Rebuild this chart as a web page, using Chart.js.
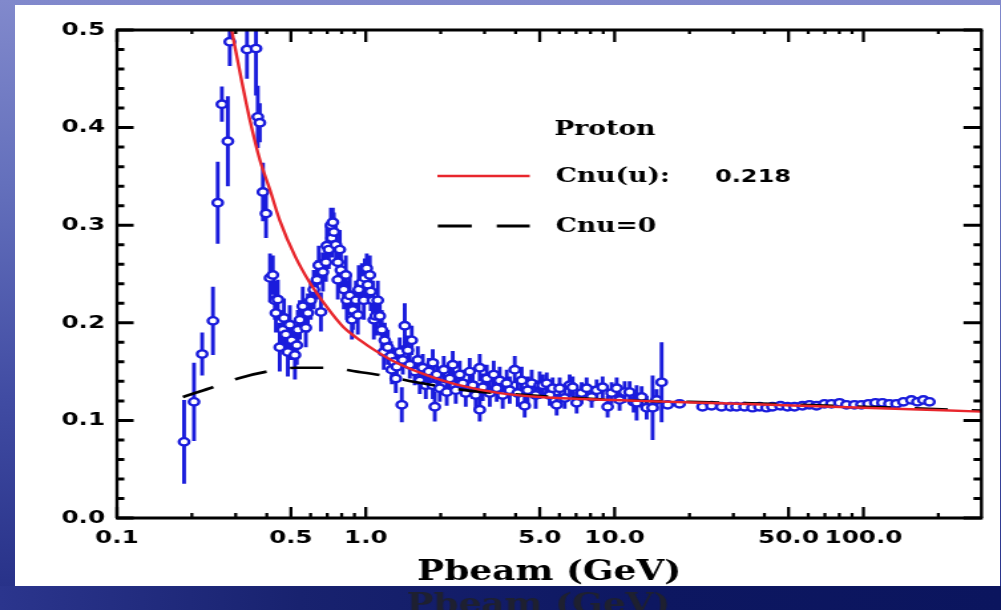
<!DOCTYPE html>
<html>
<head>
<meta charset="utf-8">
<script src="https://cdn.jsdelivr.net/npm/chart.js@4.4.0/dist/chart.umd.min.js"></script>
<style>
  html, body { margin: 0; padding: 0; }
  body {
    width: 1001px; height: 610px; overflow: hidden; position: relative;
    background: linear-gradient(180deg, #8189cc 0%, #6470bc 30%, #414ca3 65%, #252f86 100%);
  }
  #panel { position: absolute; left: 15px; top: 5px; width: 985px; height: 581px; background: #fff; }
  #band {
    position: absolute; left: 0; top: 586px; width: 1001px; height: 24px;
    background: linear-gradient(90deg, #2b358d 0%, #18226f 30%, #0d1761 65%, #0b155e 100%);
  }
  /* the slide picture is stretched sideways, so the chart is drawn narrow and widened */
  #wrap { position: absolute; left: 0; top: 0; width: 753px; height: 610px; transform: scaleX(1.3293); transform-origin: 0 0; }
</style>
</head>
<body>
<div id="panel"></div>
<div id="band"></div>
<div id="wrap"><canvas id="chart" width="753" height="610"></canvas></div>
<script>
// measured points: beam momentum (GeV), Cnu, error
const pbeam = [
  0.186, 0.204, 0.220, 0.243, 0.254, 0.264, 0.279, 0.284, 0.333, 0.362, 0.368, 0.375, 0.386, 0.397,
  0.412, 0.423, 0.431, 0.435, 0.443, 0.451, 0.464, 0.469, 0.477, 0.486,
  0.495, 0.504, 0.519, 0.528, 0.533, 0.543, 0.558, 0.574, 0.585, 0.601,
  0.618, 0.636, 0.647, 0.660, 0.672, 0.691, 0.697, 0.710, 0.724, 0.730,
  0.737, 0.744, 0.758, 0.772, 0.772, 0.786, 0.794, 0.816, 0.831, 0.839,
  0.862, 0.879, 0.887, 0.912, 0.929, 0.937, 0.964, 0.982, 0.991, 1.009,
  1.019, 1.038, 1.047, 1.067, 1.077, 1.097, 1.117, 1.138, 1.159, 1.181,
  1.192, 1.226, 1.260, 1.272, 1.295, 1.320, 1.332, 1.369, 1.395, 1.408, 1.434,
  1.475, 1.502, 1.530, 1.573, 1.618, 1.648, 1.694, 1.742, 1.791, 1.858,
  1.858, 1.893, 1.928, 1.983, 2.058, 2.115, 2.175, 2.236, 2.299, 2.385,
  2.452, 2.521, 2.616, 2.690, 2.766, 2.870, 2.870, 2.951, 3.062, 3.148,
  3.266, 3.359, 3.453, 3.550, 3.684, 3.787, 3.967, 4.078, 4.232, 4.351,
  4.473, 4.642, 4.816, 4.998,
  5.138, 5.333, 5.483, 5.636, 5.849, 6.013, 6.298, 6.596, 6.781, 7.037,
  7.370, 7.718, 8.083, 8.466, 8.948, 9.373, 9.727, 10.19, 10.47, 10.97,
  11.49, 11.92, 12.26, 12.84, 13.45, 14.21, 14.75, 15.45, 16.33, 18.24,
  22.56, 24.52, 26.90, 29.23, 30.90, 33.28, 35.84, 38.22, 40.78, 43.09,
  46.42, 49.53, 52.83, 56.89, 60.69, 64.75, 69.73, 74.39, 80.11, 85.46,
  92.04, 98.18, 104.7, 111.7, 119.2, 127.2, 135.7, 144.7, 155.9, 164.8, 174.2, 184.2
];
const cnu = [
  0.078, 0.119, 0.168, 0.202, 0.323, 0.424, 0.386, 0.488, 0.480, 0.481, 0.411, 0.405, 0.334, 0.312,
  0.246, 0.249, 0.223, 0.210, 0.224, 0.175, 0.193, 0.205, 0.188, 0.170,
  0.198, 0.182, 0.167, 0.177, 0.193, 0.203, 0.217, 0.195, 0.210, 0.223,
  0.234, 0.244, 0.259, 0.211, 0.252, 0.262, 0.279, 0.275, 0.300, 0.287,
  0.303, 0.293, 0.280, 0.262, 0.244, 0.275, 0.254, 0.234, 0.249, 0.223,
  0.228, 0.203, 0.213, 0.223, 0.208, 0.234, 0.241, 0.223, 0.246, 0.256,
  0.239, 0.249, 0.232, 0.223, 0.203, 0.207, 0.223, 0.207, 0.193, 0.170,
  0.182, 0.175, 0.166, 0.152, 0.160, 0.143, 0.155, 0.170, 0.116, 0.162, 0.197,
  0.172, 0.157, 0.182, 0.150, 0.162, 0.141, 0.154, 0.136, 0.150, 0.159,
  0.136, 0.114, 0.147, 0.133, 0.152, 0.129, 0.143, 0.157, 0.131, 0.147,
  0.138, 0.128, 0.150, 0.136, 0.126, 0.154, 0.111, 0.134, 0.143, 0.128,
  0.147, 0.133, 0.141, 0.126, 0.138, 0.131, 0.152, 0.128, 0.141, 0.115,
  0.131, 0.138, 0.126, 0.136,
  0.136, 0.138, 0.126, 0.133, 0.116, 0.133, 0.123, 0.136, 0.134, 0.118,
  0.128, 0.133, 0.124, 0.131, 0.134, 0.114, 0.128, 0.133, 0.121, 0.129,
  0.129, 0.119, 0.118, 0.124, 0.113, 0.113, 0.121, 0.139, 0.116, 0.117,
  0.114, 0.115, 0.114, 0.114, 0.114, 0.114, 0.113, 0.114, 0.113, 0.114,
  0.115, 0.114, 0.114, 0.115, 0.116, 0.115, 0.117, 0.117, 0.118, 0.116,
  0.116, 0.116, 0.117, 0.118, 0.118, 0.117, 0.117, 0.119, 0.121, 0.119, 0.121, 0.119
];
const cnuErr = [
  0.043, 0.040, 0.022, 0.035, 0.042, 0.018, 0.046, 0.025, 0.030, 0.048, 0.032, 0.020, 0.030, 0.025,
  0.025, 0.020, 0.020, 0.020, 0.020, 0.025, 0.020, 0.020, 0.020, 0.025,
  0.020, 0.020, 0.025, 0.020, 0.020, 0.020, 0.020, 0.020, 0.020, 0.020,
  0.020, 0.020, 0.020, 0.020, 0.020, 0.020, 0.020, 0.020, 0.018, 0.020,
  0.015, 0.020, 0.020, 0.020, 0.020, 0.020, 0.020, 0.020, 0.020, 0.020,
  0.020, 0.020, 0.020, 0.020, 0.020, 0.025, 0.020, 0.020, 0.020, 0.015,
  0.020, 0.020, 0.020, 0.020, 0.020, 0.020, 0.020, 0.020, 0.020, 0.018,
  0.018, 0.018, 0.015, 0.015, 0.015, 0.015, 0.015, 0.015, 0.018, 0.015, 0.023,
  0.015, 0.014, 0.015, 0.014, 0.014, 0.014, 0.014, 0.014, 0.014, 0.014,
  0.014, 0.015, 0.014, 0.014, 0.014, 0.014, 0.014, 0.014, 0.014, 0.014,
  0.014, 0.014, 0.014, 0.014, 0.014, 0.014, 0.012, 0.014, 0.014, 0.014,
  0.014, 0.014, 0.014, 0.014, 0.014, 0.014, 0.014, 0.014, 0.014, 0.012,
  0.014, 0.014, 0.014, 0.014,
  0.011, 0.011, 0.011, 0.011, 0.011, 0.011, 0.011, 0.011, 0.011, 0.011,
  0.011, 0.011, 0.011, 0.011, 0.011, 0.011, 0.011, 0.011, 0.011, 0.011,
  0.011, 0.011, 0.018, 0.011, 0.012, 0.033, 0.011, 0.041, 0.004, 0.004,
  0.003, 0.003, 0.003, 0.003, 0.003, 0.003, 0.003, 0.003, 0.003, 0.003,
  0.003, 0.003, 0.003, 0.003, 0.003, 0.003, 0.003, 0.003, 0.003, 0.003,
  0.003, 0.003, 0.003, 0.003, 0.003, 0.003, 0.003, 0.003, 0.003, 0.003, 0.003, 0.003
];

// fitted curve, Cnu(u) = 0.218
const fitP = [0.289, 0.318, 0.342, 0.375, 0.412, 0.451, 0.52, 0.596, 0.698, 0.81, 0.95, 1.1, 1.33, 1.86, 2.3, 3.45, 5.0, 12.6, 31.5, 100, 298];
const fitCnu = [0.500, 0.446, 0.408, 0.367, 0.336, 0.305, 0.268, 0.241, 0.216, 0.196, 0.182, 0.171, 0.159, 0.144, 0.137, 0.128, 0.124, 0.120, 0.117, 0.113, 0.109];
// curve with Cnu = 0
const zeroP = [0.184, 0.236, 0.306, 0.40, 0.53, 0.70, 0.92, 1.17, 1.6, 2.5, 3.36, 10, 30, 100, 298];
const zeroCnu = [0.124, 0.133, 0.143, 0.150, 0.154, 0.154, 0.150, 0.146, 0.139, 0.131, 0.128, 0.121, 0.118, 0.114, 0.110];

const xMajorTicks = [0.1, 0.5, 1, 5, 10, 50, 100];
const xTickLabels = ['0.1', '0.5', '1.0', '5.0', '10.0', '50.0', '100.0'];
const xMinorTicks = [0.2, 0.3, 0.4, 0.6, 0.7, 0.8, 0.9, 2, 3, 4, 6, 7, 8, 9, 20, 30, 40, 60, 70, 80, 90, 200];
const yMajorTicks = [0, 0.1, 0.2, 0.3, 0.4, 0.5];
const yTickLabels = ['0.0', '0.1', '0.2', '0.3', '0.4', '0.5'];
const yMinorTicks = [0.02, 0.04, 0.06, 0.08, 0.12, 0.14, 0.16, 0.18, 0.22, 0.24, 0.26, 0.28,
                     0.32, 0.34, 0.36, 0.38, 0.42, 0.44, 0.46, 0.48];

const xTitle = 'Pbeam (GeV)';
const legendTitle = 'Proton';
const legendFit = 'Cnu(u):';
const legendFitValue = '0.218';
const legendZero = 'Cnu=0';

const BLUE = '#1a1cdc';
const RED = '#e8262c';

// vertical error bars, drawn under the markers
const errorBars = {
  id: 'errorBars',
  beforeDatasetsDraw(chart) {
    const { ctx, chartArea: a, scales: { x, y } } = chart;
    ctx.save();
    ctx.beginPath();
    ctx.rect(a.left, a.top, a.right - a.left, a.bottom - a.top);
    ctx.clip();
    ctx.strokeStyle = BLUE;
    ctx.lineWidth = 2.9;
    ctx.beginPath();
    pbeam.forEach((p, i) => {
      const px = x.getPixelForValue(p);
      ctx.moveTo(px, y.getPixelForValue(cnu[i] - cnuErr[i]));
      ctx.lineTo(px, y.getPixelForValue(cnu[i] + cnuErr[i]));
    });
    ctx.stroke();
    ctx.restore();
  }
};

// box frame with ticks pointing inwards on all four sides
const frameTicks = {
  id: 'frameTicks',
  afterDatasetsDraw(chart) {
    const { ctx, chartArea: a, scales: { x, y } } = chart;
    const seg = (x1, y1, x2, y2) => { ctx.moveTo(x1, y1); ctx.lineTo(x2, y2); };
    ctx.save();
    ctx.strokeStyle = '#000';
    ctx.lineWidth = 2.3;
    ctx.beginPath();
    xMajorTicks.forEach(v => {
      const px = x.getPixelForValue(v);
      seg(px, a.bottom, px, a.bottom - 11);
      seg(px, a.top, px, a.top + 12);
    });
    xMinorTicks.forEach(v => {
      const px = x.getPixelForValue(v);
      seg(px, a.bottom, px, a.bottom - 5);
      seg(px, a.top, px, a.top + 4);
    });
    ctx.stroke();
    ctx.lineWidth = 3;
    ctx.beginPath();
    yMajorTicks.forEach(v => {
      const py = y.getPixelForValue(v);
      seg(a.left, py, a.left + 12.5, py);
      seg(a.right, py, a.right - 13.5, py);
    });
    yMinorTicks.forEach(v => {
      const py = y.getPixelForValue(v);
      seg(a.left, py, a.left + 5.5, py);
      seg(a.right, py, a.right - 6, py);
    });
    ctx.stroke();
    ctx.lineWidth = 3;
    ctx.beginPath();
    seg(a.left - 1, a.top, a.right + 1, a.top);
    seg(a.left - 1, a.bottom, a.right + 1, a.bottom);
    ctx.stroke();
    ctx.lineWidth = 2.4;
    ctx.beginPath();
    seg(a.left, a.top, a.left, a.bottom);
    seg(a.right, a.top, a.right, a.bottom);
    ctx.stroke();
    ctx.restore();
  }
};

// key inside the plot, plus the dark copy of the axis title below the slide
const keyBox = {
  id: 'keyBox',
  afterDraw(chart) {
    const ctx = chart.ctx;
    ctx.save();
    ctx.textBaseline = 'middle';
    ctx.textAlign = 'left';
    ctx.fillStyle = '#000';
    ctx.font = 'bold 20px "DejaVu Serif"';
    ctx.fillText(legendTitle, 417, 130);
    ctx.fillText(legendFit, 418, 177);
    ctx.fillText(legendZero, 418, 227);
    ctx.font = 'bold 18px "DejaVu Sans"';
    ctx.fillText(legendFitValue, 538, 177);

    ctx.strokeStyle = RED;
    ctx.lineWidth = 2.6;
    ctx.beginPath();
    ctx.moveTo(329, 176);
    ctx.lineTo(398.5, 176);
    ctx.stroke();
    ctx.strokeStyle = '#000';
    ctx.lineWidth = 3;
    ctx.setLineDash([25.6, 18.8]);
    ctx.beginPath();
    ctx.moveTo(329.3, 226);
    ctx.lineTo(398.5, 226);
    ctx.stroke();
    ctx.setLineDash([]);

    ctx.font = 'bold 27px "DejaVu Serif"';
    ctx.textAlign = 'center';
    ctx.fillStyle = '#1e2030';
    ctx.fillText(xTitle, 405, 606);
    ctx.restore();
  }
};

const tickFont = { family: 'DejaVu Sans', weight: 'bold', size: 18.5 };

new Chart(document.getElementById('chart'), {
  type: 'scatter',
  data: {
    datasets: [
      {
        label: 'Proton',
        data: pbeam.map((p, i) => ({ x: p, y: cnu[i] })),
        pointRadius: 3.7,
        pointBorderWidth: 2.4,
        pointBorderColor: BLUE,
        pointBackgroundColor: '#fff',
        order: 3
      },
      {
        label: 'Cnu=0',
        data: zeroP.map((p, i) => ({ x: p, y: zeroCnu[i] })),
        showLine: true,
        borderColor: '#000',
        borderWidth: 2.6,
        borderDash: [25, 18],
        pointRadius: 0,
        cubicInterpolationMode: 'monotone',
        clip: 0,
        order: 2
      },
      {
        label: 'Cnu(u): 0.218',
        data: fitP.map((p, i) => ({ x: p, y: fitCnu[i] })),
        showLine: true,
        borderColor: RED,
        borderWidth: 2.4,
        pointRadius: 0,
        cubicInterpolationMode: 'monotone',
        clip: 0,
        order: 1
      }
    ]
  },
  options: {
    responsive: false,
    animation: false,
    devicePixelRatio: 1,
    events: [],
    layout: { padding: { left: 0, right: 14.7, top: 30, bottom: 0 } },
    plugins: { legend: { display: false }, tooltip: { enabled: false } },
    scales: {
      x: {
        type: 'logarithmic',
        min: 0.1,
        max: 298,
        afterBuildTicks: s => { s.ticks = xMajorTicks.map(v => ({ value: v })); },
        afterFit: s => { s.height = 92; },
        grid: { display: false, drawTicks: false },
        border: { display: false },
        ticks: {
          autoSkip: false, maxRotation: 0, minRotation: 0, padding: 9,
          color: '#000', font: tickFont,
          callback: (v, i) => xTickLabels[i]
        },
        title: {
          display: true, text: xTitle, color: '#000',
          font: { family: 'DejaVu Serif', weight: 'bold', size: 27, lineHeight: 1.2 },
          padding: { top: 0, bottom: 21 }
        }
      },
      y: {
        min: 0,
        max: 0.5,
        afterBuildTicks: s => { s.ticks = yMajorTicks.map(v => ({ value: v })); },
        afterFit: s => { s.width = 88; },
        grid: { display: false, drawTicks: false },
        border: { display: false },
        ticks: {
          padding: 9, color: '#000', font: tickFont,
          callback: (v, i) => yTickLabels[i]
        }
      }
    }
  },
  plugins: [errorBars, frameTicks, keyBox]
});
</script>
</body>
</html>
